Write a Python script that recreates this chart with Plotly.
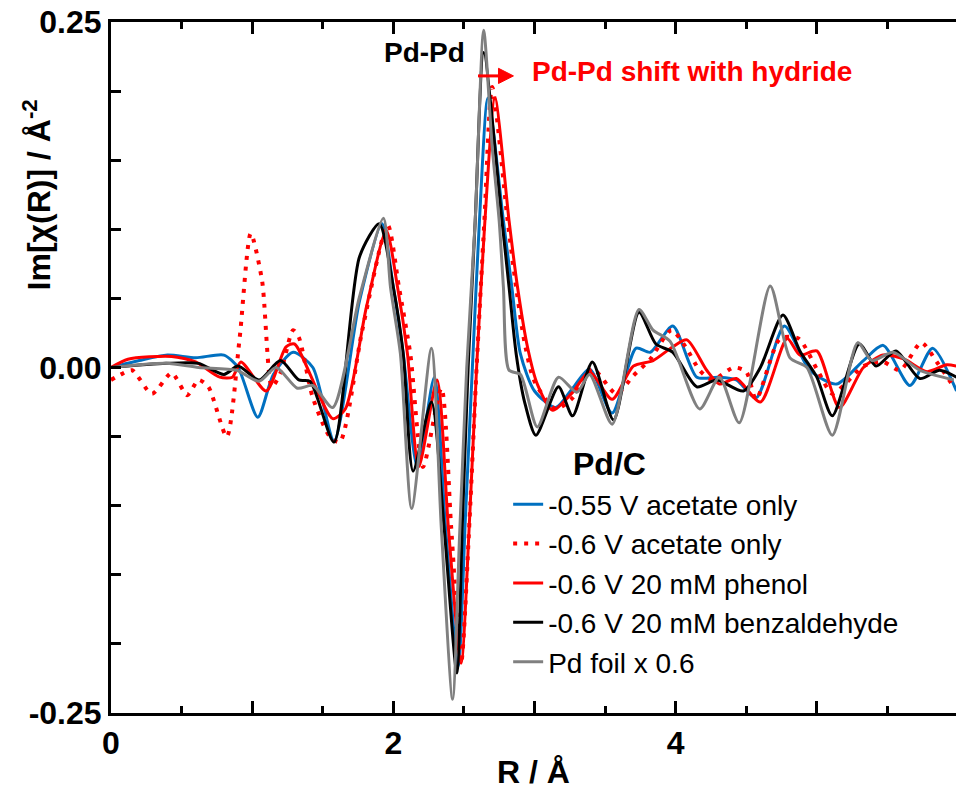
import plotly.graph_objects as go

# ---- data ----
blue_x = [0, 0.2, 0.4, 0.6, 0.8, 0.9, 1.04, 1.15, 1.29, 1.43, 1.58, 1.76, 1.92, 2.0, 2.07, 2.17, 2.29, 2.37, 2.46, 2.51, 2.56, 2.61, 2.67, 2.78, 2.84, 2.90, 3.0, 3.15, 3.27, 3.39, 3.55, 3.72, 3.82, 3.98, 4.15, 4.3, 4.43, 4.57, 4.77, 4.95, 5.14, 5.33, 5.47, 5.66, 5.82, 5.99]
blue_y = [0, 0.005, 0.009, 0.007, 0.009, 0.0, -0.036, -0.005, 0.011, 0.0, -0.053, 0.048, 0.104, 0.058, 0.010, -0.072, -0.007, -0.116, -0.216, -0.11, 0.0, 0.106, 0.195, 0.106, 0.058, 0.010, -0.017, -0.029, -0.015, -0.001, -0.033, 0.014, 0.011, 0.030, -0.007, -0.007, -0.009, -0.022, 0.030, -0.002, -0.012, 0.005, 0.016, -0.013, 0.014, -0.017]

reddot_x = [0, 0.07, 0.15, 0.29, 0.43, 0.54, 0.62, 0.69, 0.82, 0.91, 0.99, 1.07, 1.14, 1.2, 1.29, 1.33, 1.43, 1.55, 1.62, 1.78, 1.96, 2.04, 2.12, 2.21, 2.34, 2.41, 2.48, 2.54, 2.59, 2.645, 2.70, 2.81, 2.87, 2.93, 3.0, 3.15, 3.27, 3.41, 3.58, 3.70, 3.82, 3.97, 4.07, 4.17, 4.26, 4.41, 4.5, 4.57, 4.74, 4.87, 5.0, 5.11, 5.2, 5.33, 5.47, 5.59, 5.74, 5.85, 5.97]
reddot_y = [-0.009, -0.005, -0.002, -0.019, -0.004, -0.020, -0.009, -0.014, -0.050, 0.020, 0.097, 0.063, -0.014, -0.004, 0.027, 0.022, -0.022, -0.050, -0.054, 0.027, 0.103, 0.058, 0.010, -0.072, -0.015, -0.116, -0.214, -0.11, 0.0, 0.106, 0.203, 0.106, 0.058, 0.018, -0.010, -0.030, -0.022, -0.001, -0.019, -0.006, 0.006, 0.027, 0.015, -0.002, -0.009, 0.0, -0.003, -0.023, 0.021, 0.021, -0.001, -0.019, -0.012, 0.001, 0.004, -0.002, 0.018, 0.004, -0.014]

red_x = [0, 0.12, 0.43, 0.6, 0.77, 0.86, 0.92, 1.1, 1.24, 1.3, 1.57, 1.66, 1.81, 1.95, 2.03, 2.1, 2.18, 2.31, 2.39, 2.48, 2.54, 2.59, 2.645, 2.72, 2.82, 2.88, 2.95, 3.02, 3.13, 3.27, 3.39, 3.55, 3.70, 3.84, 3.98, 4.08, 4.22, 4.31, 4.43, 4.6, 4.79, 4.88, 5.0, 5.16, 5.33, 5.47, 5.62, 5.78, 5.92, 5.99]
red_y = [0, 0.006, 0.008, 0.004, -0.007, -0.007, 0.004, -0.017, 0.015, 0.017, -0.037, -0.03, 0.044, 0.099, 0.058, 0.010, -0.072, -0.009, -0.116, -0.214, -0.11, 0.0, 0.100, 0.195, 0.106, 0.058, 0.015, -0.012, -0.031, -0.018, -0.003, -0.023, 0.001, 0.005, 0.015, 0.020, -0.002, -0.012, -0.008, -0.025, 0.021, 0.009, 0.012, -0.029, 0.0, 0.009, 0.006, -0.003, 0.002, 0.001]

black_x = [0, 0.39, 0.62, 0.8, 0.9, 1.05, 1.2, 1.33, 1.41, 1.58, 1.76, 1.9, 2.0, 2.07, 2.14, 2.27, 2.36, 2.45, 2.49, 2.53, 2.58, 2.64, 2.77, 2.82, 2.87, 2.93, 3.01, 3.17, 3.27, 3.41, 3.56, 3.74, 3.86, 3.98, 4.15, 4.29, 4.48, 4.6, 4.76, 4.88, 5.0, 5.11, 5.30, 5.42, 5.56, 5.73, 5.87, 5.99]
black_y = [0, 0.003, 0.003, -0.005, 0.001, -0.009, 0.005, -0.009, -0.010, -0.054, 0.080, 0.104, 0.058, 0.010, -0.075, -0.025, -0.116, -0.221, -0.11, 0.0, 0.106, 0.228, 0.106, 0.058, 0.010, -0.025, -0.049, -0.014, -0.035, 0.004, -0.038, 0.040, 0.017, 0.011, -0.014, -0.009, -0.017, 0.0, 0.038, 0.012, -0.007, -0.035, 0.017, 0.001, 0.012, -0.008, -0.002, -0.007]

gray_x = [0, 0.39, 0.62, 0.89, 1.05, 1.17, 1.32, 1.43, 1.57, 1.76, 1.93, 1.98, 2.05, 2.13, 2.27, 2.34, 2.42, 2.47, 2.52, 2.58, 2.64, 2.70, 2.75, 2.78, 2.82, 2.90, 3.02, 3.17, 3.30, 3.39, 3.55, 3.74, 3.84, 3.96, 4.17, 4.31, 4.45, 4.67, 4.81, 4.93, 5.11, 5.29, 5.39, 5.54, 5.73, 5.97]
gray_y = [0, 0.003, 0.0, -0.002, -0.010, 0.0, -0.015, -0.013, -0.029, 0.051, 0.108, 0.058, 0.010, -0.102, 0.014, -0.116, -0.240, -0.12, 0.0, 0.106, 0.244, 0.16, 0.106, 0.058, -0.002, -0.005, -0.043, -0.007, -0.018, -0.005, -0.041, 0.042, 0.027, 0.019, -0.030, -0.007, -0.040, 0.059, 0.007, 0.0, -0.049, 0.018, 0.005, 0.011, -0.002, -0.009]

series_names = ["-0.55 V acetate only", "-0.6 V acetate only", "-0.6 V 20 mM phenol",
                "-0.6 V 20 mM benzaldehyde", "Pd foil x 0.6"]

x_tickvals = [0, 2, 4]
x_ticktext = ["0", "2", "4"]
x_oddvals = [1, 3, 5]
x_minorvals = [0.5, 1.5, 2.5, 3.5, 4.5, 5.5]
y_tickvals = [-0.25, 0, 0.25]
y_ticktext = ["-0.25", "0.00", "0.25"]
y_minor_step = 0.05

FONT = "Liberation Sans, Arial, sans-serif"
XRANGE = [0, 5.986]

fig = go.Figure()
styles = [
    dict(color="#0070C0", width=3),
    dict(color="#FF0000", width=4, dash="4px,7px"),
    dict(color="#FF0000", width=3),
    dict(color="#000000", width=3),
    dict(color="#808080", width=3),
]
for (xs, ys), name, st in zip(
    [(blue_x, blue_y), (reddot_x, reddot_y), (red_x, red_y), (black_x, black_y), (gray_x, gray_y)],
    series_names, styles):
    fig.add_trace(go.Scatter(x=xs, y=ys, mode="lines", name=name,
                             line=dict(shape="spline", smoothing=0.7, **st)))

fig.update_layout(
    width=956, height=790,
    margin=dict(l=111, r=0, t=22, b=77),
    plot_bgcolor="white", paper_bgcolor="white",
    font=dict(family=FONT, color="black"),
    legend=dict(x=0.47, y=0.338, xanchor="left", yanchor="top",
                bgcolor="rgba(0,0,0,0)", font=dict(size=28, family=FONT, color="black"),
                tracegroupgap=0),
    showlegend=True,
    xaxis=dict(
        range=XRANGE, showgrid=False, zeroline=False,
        showline=True, linewidth=3, linecolor="black", mirror="ticks",
        ticks="inside", ticklen=12, tickwidth=3, tickcolor="black",
        tickmode="array", tickvals=x_tickvals, ticktext=x_ticktext,
        tickfont=dict(size=32, family=FONT, weight="bold"),
        minor=dict(tickmode="array", tickvals=x_minorvals, ticks="inside", ticklen=7,
                   tickwidth=3, tickcolor="black"),
        title=dict(text="<b>R / Å</b>", font=dict(size=32, family=FONT), standoff=6),
    ),
    # second (unlabelled) x axis only to draw the longer ticks at odd integers
    xaxis2=dict(
        overlaying="x", matches="x", range=XRANGE, side="bottom",
        showgrid=False, zeroline=False, showline=False, mirror="ticks",
        ticks="inside", ticklen=12, tickwidth=3, tickcolor="black",
        tickmode="array", tickvals=x_oddvals, showticklabels=False,
    ),
    yaxis=dict(
        range=[-0.25, 0.25], showgrid=False, zeroline=False,
        showline=True, linewidth=3, linecolor="black", mirror=False,
        ticks="inside", ticklen=10, tickwidth=3, tickcolor="black",
        tickmode="array", tickvals=y_tickvals, ticktext=y_ticktext,
        tickfont=dict(size=32, family=FONT, weight="bold"),
        minor=dict(dtick=y_minor_step, tick0=0, ticks="inside", ticklen=10,
                   tickwidth=3, tickcolor="black"),
    ),
)
# invisible helper trace so xaxis2 is drawn
fig.add_trace(go.Scatter(x=[XRANGE[0]], y=[0], xaxis="x2", mode="markers",
                         marker=dict(opacity=0), showlegend=False, hoverinfo="skip"))

fig.add_annotation(xref="paper", yref="paper", x=-0.088, y=0.75, xanchor="center", yanchor="middle",
                   textangle=-90,
                   text="<b>Im[χ(R)] / Å<sup>-2</sup></b>", showarrow=False,
                   font=dict(size=32, family=FONT, color="black"))
fig.add_annotation(x=2.22, y=0.228, text="<b>Pd-Pd</b>", showarrow=False,
                   font=dict(size=28, family=FONT, color="black"))
fig.add_annotation(x=2.97, y=0.214, xanchor="left", text="<b>Pd-Pd shift with hydride</b>",
                   showarrow=False, font=dict(size=28, family=FONT, color="#FF0000"))
# red arrow (shaft + head)
fig.add_shape(type="line", x0=2.60, y0=0.211, x1=2.76, y1=0.211,
              line=dict(color="#FF0000", width=3))
fig.add_shape(type="path", path="M 2.745 0.2165 L 2.851 0.211 L 2.745 0.2055 Z",
              fillcolor="#FF0000", line=dict(color="#FF0000", width=1))
fig.add_annotation(xref="paper", yref="paper", x=0.59, y=0.36, text="<b>Pd/C</b>",
                   showarrow=False, font=dict(size=32, family=FONT, color="black"))

fig.write_html("out.html")
